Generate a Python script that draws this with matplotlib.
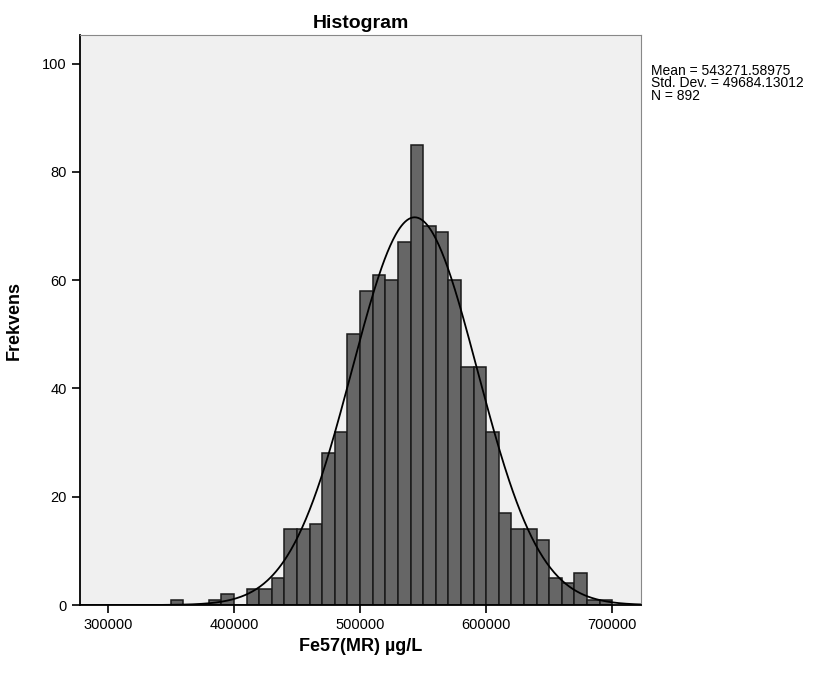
import matplotlib
matplotlib.use("Agg")
import matplotlib.pyplot as plt
import numpy as np

plt.rcParams['font.family'] = ['Liberation Sans', 'DejaVu Sans']

# bin edges start at 350000, width 10000
bin_left = np.arange(350000, 700000, 10000)
counts = [1, 0, 0, 1, 2, 0, 3, 3, 5, 14, 14, 15, 28, 32, 50,
          58, 61, 60, 67, 85, 70, 69, 60, 44, 44, 32, 17, 14, 14, 12,
          5, 4, 6, 1, 1]
bin_width = 10000

mean_val = 543271.58975
std_val = 49684.13012
n_val = 892

fig = plt.figure(figsize=(8.17, 6.73), dpi=100)
ax = fig.add_axes([0.098, 0.101, 0.687, 0.847])
ax.set_facecolor('#f0f0f0')

ax.bar(bin_left, counts, width=bin_width, align='edge',
       color='#666666', edgecolor='#1a1a1a', linewidth=1.1, zorder=2)

# normal curve from the reported statistics
xs = np.linspace(278000, 723000, 600)
ys = n_val * bin_width * np.exp(-0.5 * ((xs - mean_val) / std_val) ** 2) / (std_val * np.sqrt(2 * np.pi))
ax.plot(xs, ys, color='black', linewidth=1.3, zorder=3)

ax.set_xlim(278000, 723000)
ax.set_ylim(0, 105.3)
ax.set_xticks([300000, 400000, 500000, 600000, 700000])
ax.set_xticklabels(['300000', '400000', '500000', '600000', '700000'])
ax.set_yticks([0, 20, 40, 60, 80, 100])
ax.tick_params(direction='out', length=6, width=1.2, labelsize=10.5, colors='black')

for s in ['top', 'right']:
    ax.spines[s].set_color('#888888')
for s in ['left', 'bottom']:
    ax.spines[s].set_color('black')
    ax.spines[s].set_linewidth(1.3)

ax.set_title('Histogram', fontsize=14, fontweight='bold', pad=5)
ax.set_xlabel('Fe57(MR) µg/L', fontsize=13, fontweight='bold', labelpad=4)
ax.set_ylabel('Frekvens', fontsize=13, fontweight='bold', labelpad=14)

fig.text(0.797, 0.905, 'Mean = 543271.58975\nStd. Dev. = 49684.13012\nN = 892',
         fontsize=10, va='top', ha='left', linespacing=0.85)

fig.savefig('out.png', dpi=100, facecolor='white')
